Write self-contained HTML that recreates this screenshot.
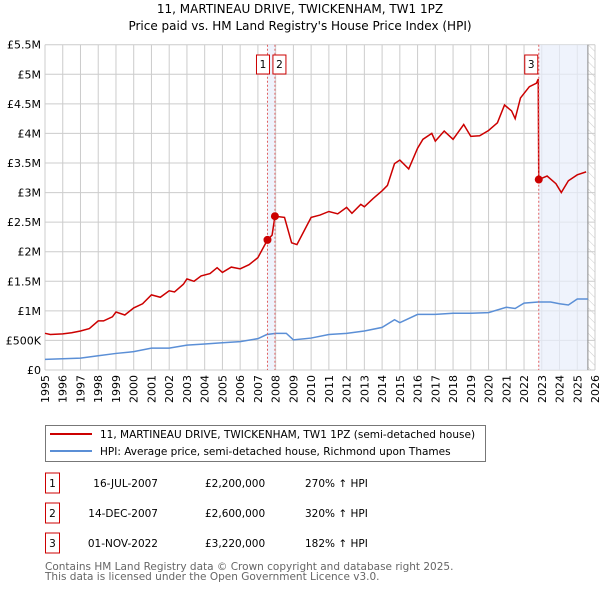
<!DOCTYPE html>
<html><head><meta charset="utf-8"><style>
body{margin:0;background:#fff;width:600px;height:590px;overflow:hidden;font-family:"DejaVu Sans","Liberation Sans",sans-serif}
svg text{font-family:"DejaVu Sans","Liberation Sans",sans-serif}
</style></head><body>
<svg id="chart" width="600" height="590" xmlns="http://www.w3.org/2000/svg">
<defs><pattern id="hatch" width="6" height="6" patternUnits="userSpaceOnUse" patternTransform="rotate(-45)"><line x1="0" y1="0" x2="0" y2="6" stroke="#ccc" stroke-width="1"/></pattern></defs>
<text x="300" y="13" text-anchor="middle" font-size="12">11, MARTINEAU DRIVE, TWICKENHAM, TW1 1PZ</text>
<text x="300" y="30" text-anchor="middle" font-size="12">Price paid vs. HM Land Registry's House Price Index (HPI)</text>
<g id="grid"></g><g id="shade"></g><g id="series"></g><g id="marks"></g><g id="axes"></g>
<g>
<rect x="45.5" y="425.5" width="440" height="36" fill="#fff" stroke="#777"/>
<line x1="50" y1="434" x2="92" y2="434" stroke="#cc0000" stroke-width="2"/>
<text x="100" y="438" font-size="10.5">11, MARTINEAU DRIVE, TWICKENHAM, TW1 1PZ (semi-detached house)</text>
<line x1="50" y1="451" x2="92" y2="451" stroke="#5b8fd6" stroke-width="2"/>
<text x="100" y="455" font-size="10.5">HPI: Average price, semi-detached house, Richmond upon Thames</text>
</g>
<g id="table" font-size="10.5"></g>
<text x="45" y="570" font-size="10.5" fill="#666">Contains HM Land Registry data © Crown copyright and database right 2025.</text>
<text x="45" y="580" font-size="10.5" fill="#666">This data is licensed under the Open Government Licence v3.0.</text>
</svg>
<script>
const yearTicks=[1995,1996,1997,1998,1999,2000,2001,2002,2003,2004,2005,2006,2007,2008,2009,2010,2011,2012,2013,2014,2015,2016,2017,2018,2019,2020,2021,2022,2023,2024,2025,2026];
const valueTicks=[0,500000,1000000,1500000,2000000,2500000,3000000,3500000,4000000,4500000,5000000,5500000];
const valueTickLabels=["£0","£500K","£1M","£1.5M","£2M","£2.5M","£3M","£3.5M","£4M","£4.5M","£5M","£5.5M"];
const redT=[1995,1995.3,1996,1996.5,1997,1997.5,1998,1998.3,1998.8,1999,1999.5,2000,2000.5,2001,2001.5,2002,2002.3,2002.8,2003,2003.4,2003.8,2004.3,2004.7,2005,2005.5,2006,2006.5,2007,2007.54,2007.8,2007.96,2008.5,2008.9,2009.2,2009.6,2010,2010.5,2011,2011.5,2012,2012.3,2012.8,2013,2013.5,2014,2014.3,2014.7,2015,2015.5,2016,2016.3,2016.8,2017,2017.5,2018,2018.6,2019,2019.5,2020,2020.5,2020.9,2021.3,2021.5,2021.8,2022.3,2022.7,2022.8,2022.83,2023.3,2023.8,2024.1,2024.5,2025,2025.5];
const redV=[620,600,610,630,660,700,830,830,900,980,930,1050,1120,1270,1230,1340,1320,1450,1540,1500,1590,1630,1730,1650,1740,1710,1780,1900,2200,2280,2600,2580,2150,2120,2350,2580,2620,2680,2640,2750,2650,2800,2760,2900,3030,3120,3490,3550,3400,3750,3900,4000,3870,4040,3900,4150,3950,3960,4050,4180,4480,4380,4250,4600,4790,4850,4920,3220,3280,3150,3000,3200,3300,3350];
const blueT=[1995,1996,1997,1998,1999,2000,2001,2002,2003,2004,2005,2006,2007,2007.5,2008,2008.6,2009,2010,2011,2012,2013,2014,2014.7,2015,2016,2017,2018,2019,2020,2021,2021.5,2022,2022.8,2023.5,2024,2024.5,2025,2025.6];
const blueV=[180,190,200,240,280,310,370,370,420,440,460,480,530,600,620,620,510,540,600,620,660,720,850,800,940,940,960,960,970,1060,1040,1130,1150,1150,1120,1100,1200,1200];
const saleT=[2007.54,2007.96,2022.83];
const saleV=[2200000,2600000,3220000];
const saleLabels=["1","2","3"];
const saleDates=["16-JUL-2007","14-DEC-2007","01-NOV-2022"];
const salePrices=["£2,200,000","£2,600,000","£3,220,000"];
const saleHpi=["270% ↑ HPI","320% ↑ HPI","182% ↑ HPI"];
const X0=45,X1=595,Y0=370,Y1=44.7;
const x=t=>X0+(t-1995)/31*(X1-X0);
const y=v=>Y0-v/5500000*(Y0-Y1);
const NS="http://www.w3.org/2000/svg";
function mk(tag,attrs,parent,txt){const e=document.createElementNS(NS,tag);for(const k in attrs)e.setAttribute(k,attrs[k]);if(txt!==undefined)e.textContent=txt;parent.appendChild(e);return e;}
const grid=document.getElementById('grid'),axes=document.getElementById('axes'),shade=document.getElementById('shade'),series=document.getElementById('series'),marks=document.getElementById('marks');
yearTicks.forEach(t=>{const l=mk('line',{x1:x(t),x2:x(t),y1:Y1,y2:Y0,stroke:'#ccc'},grid);


const tx=mk('text',{x:0,y:0,'font-size':11,'text-anchor':'end',transform:`translate(${x(t)+4},${Y0+5}) rotate(-90)`},axes,String(t));

});
valueTicks.forEach((v,i)=>{const l=mk('line',{x1:X0,x2:X1,y1:y(v),y2:y(v),stroke:'#ccc'},grid);


const tx=mk('text',{x:X0-4,y:y(v)+4,'font-size':11,'text-anchor':'end'},axes,valueTickLabels[i]);

});
const s1=mk('rect',{x:x(saleT[0]),y:Y1,width:x(saleT[1])-x(saleT[0]),height:Y0-Y1,fill:'#e8eefb',opacity:0.7},shade);


const s2=mk('rect',{x:x(saleT[2]),y:Y1,width:x(2025.6)-x(saleT[2]),height:Y0-Y1,fill:'#e8eefb',opacity:0.7},shade);


const h=mk('rect',{x:x(2025.6),y:Y1,width:X1-x(2025.6),height:Y0-Y1,fill:'url(#hatch)'},shade);


const hl=mk('line',{x1:x(2025.6),x2:x(2025.6),y1:Y1,y2:Y0,stroke:'#888'},shade);


const bp=mk('polyline',{points:blueT.map((t,i)=>x(t)+','+y(blueV[i]*1000)).join(' '),fill:'none',stroke:'#5b8fd6','stroke-width':1.5},series);


const rp=mk('polyline',{points:redT.map((t,i)=>x(t)+','+y(redV[i]*1000)).join(' '),fill:'none',stroke:'#cc0000','stroke-width':1.5},series);


const bx=[-17,-3,-10];
saleT.forEach((t,i)=>{const d=mk('line',{x1:x(t),x2:x(t),y1:Y1,y2:Y0,stroke:'#e06060','stroke-dasharray':'2,2'},marks);


const c=mk('circle',{cx:x(t),cy:y(saleV[i]),r:4,fill:'#cc0000'},marks);


const bxp=i===2?x(t)-14:(i===0?x(t)-11:x(t)-2);
const r=mk('rect',{x:bxp,y:55,width:i===2?13:13,height:19,fill:'#fff',stroke:'#cc0000'},marks);


const tx=mk('text',{x:bxp+6.5,y:68,'font-size':10.5,'text-anchor':'middle'},marks,saleLabels[i]);

});
const tb=document.getElementById('table');
saleT.forEach((t,i)=>{const yy=483+i*30;
const r=mk('rect',{x:45.5,y:yy-10,width:14,height:20,fill:'#fff',stroke:'#cc0000'},tb);


const a=mk('text',{x:52.5,y:yy+4,'text-anchor':'middle'},tb,saleLabels[i]);


const b=mk('text',{x:158,y:yy+4,'text-anchor':'end'},tb,saleDates[i]);


const c=mk('text',{x:205,y:yy+4},tb,salePrices[i]);


const d=mk('text',{x:305,y:yy+4},tb,saleHpi[i]);

});
</script>
</body></html>
